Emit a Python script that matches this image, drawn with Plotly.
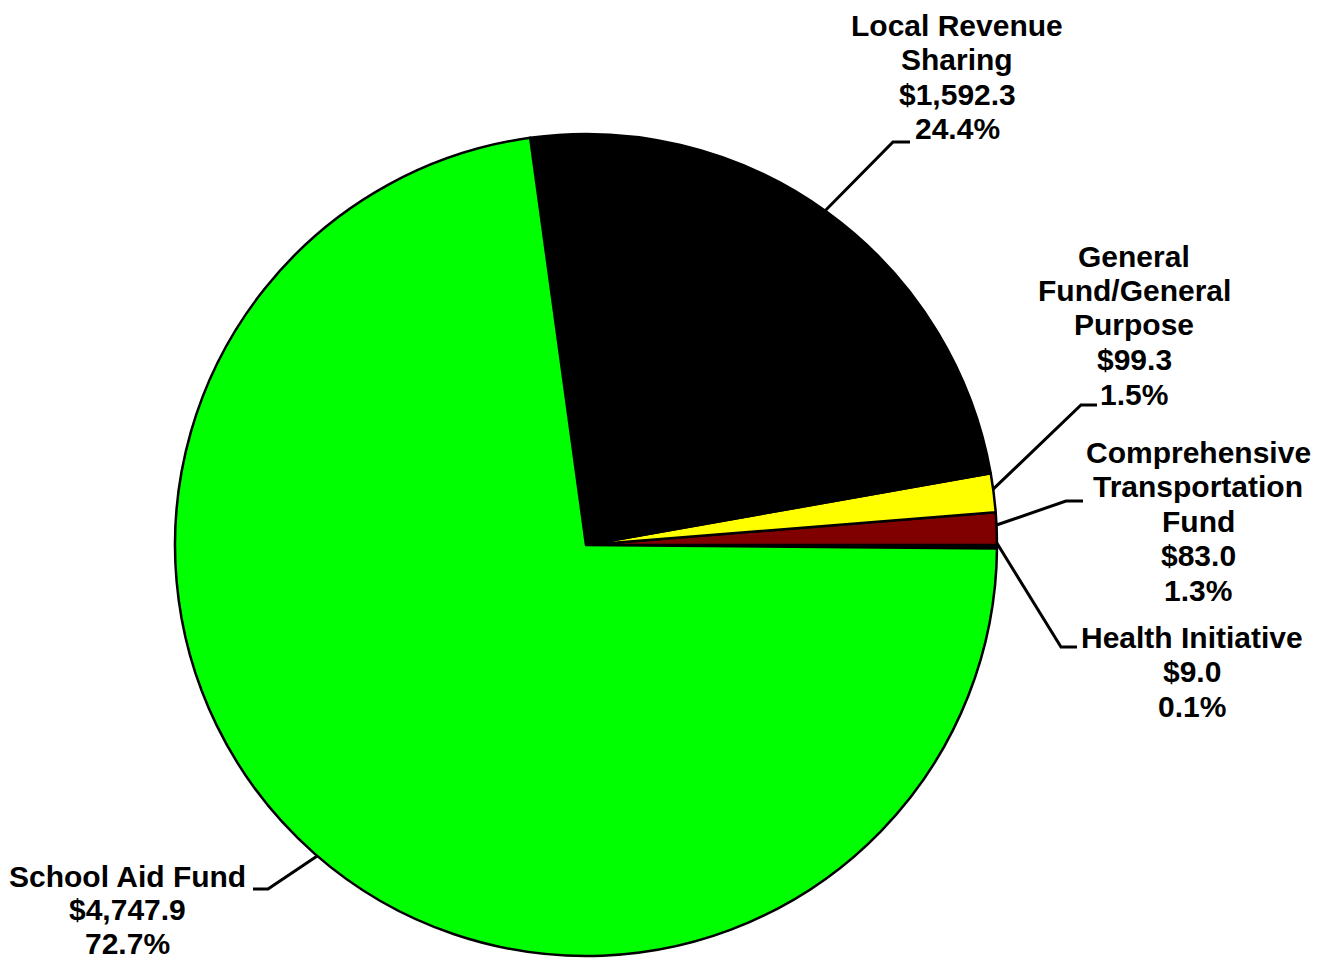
import math
import plotly.graph_objects as go

# Data (ordered counterclockwise starting at 3 o'clock)
categories = ["Health Initiative", "Comprehensive Transportation Fund",
              "General Fund/General Purpose", "Local Revenue Sharing", "School Aid Fund"]
values = [9.0, 83.0, 99.3, 1592.3, 4747.9]
colors = ["#000000", "#800000", "#FFFF00", "#000000", "#00FF00"]
label_lines = [
    ["Health Initiative"],
    ["Comprehensive", "Transportation", "Fund"],
    ["General", "Fund/General", "Purpose"],
    ["Local Revenue", "Sharing"],
    ["School Aid Fund"],
]

W, H = 1326, 961
OFF = 8  # page body margin
CX, CY, R = 586 - OFF, 545 - OFF, 411

# label layout in page pixels: (text center x, first line center y, elbow x, elbow y, end x, line height)
label_layout = [
    (1192, 637, 1061, 647, 1077, 34.5),
    (1198, 452, 1066, 501, 1083, 34.5),
    (1134, 256, 1081, 405, 1097, 34.5),
    (957, 25, 893, 142, 910, 34.5),
    (127, 876, 268, 889, 253, 33.5),
]
FONT = dict(family="Liberation Sans, Arial, sans-serif", size=30, color="black")

total = sum(values)

fig = go.Figure(go.Pie(
    labels=categories, values=values, sort=False, direction="counterclockwise",
    rotation=90, textinfo="none", hoverinfo="label+value+percent",
    marker=dict(colors=colors, line=dict(color="black", width=2.5)),
    domain=dict(x=[(CX - R) / W, (CX + R) / W], y=[1 - (CY + R) / H, 1 - (CY - R) / H]),
    showlegend=False,
))

def px(x):
    return x / W

def py(y):
    return 1 - y / H

annotations = []
shapes = []
cum = 0.0
for i, v in enumerate(values):
    frac = v / total
    mid = (cum + frac / 2) * 2 * math.pi
    cum += frac
    sx = CX + R * math.cos(mid)
    sy = CY - R * math.sin(mid)
    tx, ty, ex, ey, endx = [c - OFF for c in label_layout[i][:5]]
    lh = label_layout[i][5]
    shapes.append(dict(type="path", xref="paper", yref="paper",
                       path=f"M {px(sx)},{py(sy)} L {px(ex)},{py(ey)} L {px(endx)},{py(ey)}",
                       line=dict(color="black", width=3)))
    lines = label_lines[i] + [f"${v:,.1f}", f"{frac * 100:.1f}%"]
    for k, t in enumerate(lines):
        annotations.append(dict(x=px(tx), y=py(ty + k * lh), xref="paper", yref="paper",
                                text=f"<b>{t}</b>", showarrow=False, font=FONT,
                                xanchor="center", yanchor="middle", borderpad=0))

fig.update_layout(
    width=W, height=H, margin=dict(l=0, r=0, t=0, b=0),
    paper_bgcolor="white", plot_bgcolor="white",
    annotations=annotations, shapes=shapes,
)
fig.write_html("out.html")
